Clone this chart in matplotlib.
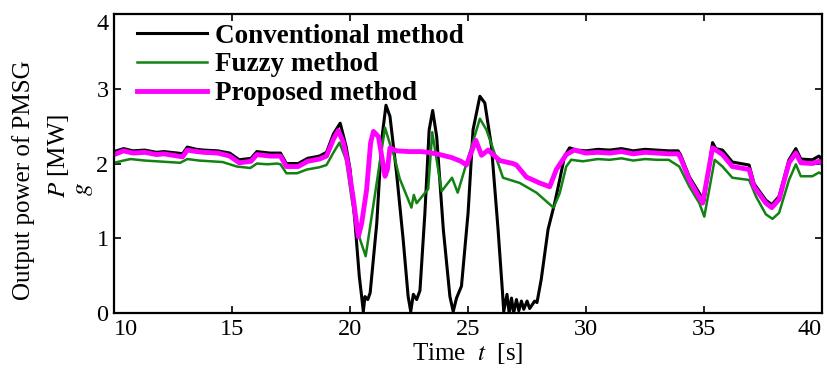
import matplotlib
matplotlib.use("Agg")
import matplotlib.pyplot as plt

# ================== configuracion ============== #
matplotlib.rcParams.update({
    "font.family": ["Liberation Serif", "DejaVu Serif"],
    "mathtext.fontset": "stix",
    "font.size": 18,
    "xtick.direction": "in",
    "ytick.direction": "in",
    "xtick.top": True,
    "ytick.right": True,
})

# ================== datos ============== #
t_conv = [10.0, 10.4, 10.8, 11.3, 11.8, 12.1, 12.7, 12.9, 13.1, 13.5, 13.8, 14.4, 14.9, 15.3, 15.8,
          16.05, 16.6, 17.05, 17.3, 17.8, 18.2, 18.7, 19.0, 19.3, 19.58, 19.83, 20.0, 20.21, 20.39,
          20.49, 20.56, 20.63, 20.75, 20.85, 21.13, 21.34, 21.52, 21.69, 21.97, 22.25, 22.46, 22.57,
          22.68, 22.82, 22.96, 23.17, 23.35, 23.5, 23.67, 23.95, 24.23, 24.37, 24.51, 24.72, 25.0,
          25.21, 25.5, 25.71, 25.99, 26.27, 26.46, 26.51, 26.65, 26.74, 26.84, 26.93, 27.05, 27.15,
          27.26, 27.36, 27.5, 27.61, 27.82, 27.92, 28.1, 28.39, 28.67, 28.88, 29.09, 29.3, 29.6,
          30.0, 30.5, 31.0, 31.5, 32.0, 32.5, 33.0, 33.5, 33.9, 34.0, 34.38, 34.94, 35.0, 35.36,
          35.5, 35.78, 36.2, 36.91, 37.12, 37.62, 37.87, 38.18, 38.6, 38.89, 39.1, 39.59, 39.87, 40.0]
p_conv = [2.16, 2.20, 2.17, 2.18, 2.15, 2.16, 2.14, 2.13, 2.22, 2.19, 2.18, 2.17, 2.14, 2.05, 2.07,
          2.16, 2.14, 2.14, 2.00, 2.00, 2.07, 2.10, 2.15, 2.40, 2.54, 2.23, 1.92, 1.20, 0.49,
          0.22, 0.02, 0.22, 0.18, 0.27, 1.20, 2.32, 2.78, 2.63, 1.87, 0.98, 0.22, 0.02,
          0.25, 0.18, 0.30, 1.34, 2.45, 2.71, 2.36, 1.12, 0.22, 0.02, 0.20, 0.36, 1.34,
          2.45, 2.90, 2.81, 2.23, 1.12, 0.27, 0.02, 0.25, 0.00, 0.20, 0.00, 0.18, 0.03,
          0.16, 0.05, 0.16, 0.06, 0.16, 0.14, 0.45, 1.12, 1.47, 1.78, 2.10, 2.21, 2.18,
          2.17, 2.19, 2.18, 2.20, 2.17, 2.19, 2.18, 2.17, 2.17, 2.12, 1.82, 1.53, 1.50, 2.28,
          2.20, 2.18, 2.02, 1.98, 1.73, 1.51, 1.45, 1.56, 2.05, 2.20, 2.06, 2.05, 2.10, 2.05]

t_fuzzy = [10.0, 10.4, 10.7, 11.3, 11.8, 12.3, 12.8, 13.1, 13.6, 14.1, 14.6, 15.2, 15.5, 15.77,
           16.05, 16.5, 16.9, 17.05, 17.3, 17.75, 18.17, 18.7, 19.0, 19.3, 19.55, 19.83, 20.07,
           20.28, 20.66, 21.48, 21.7, 21.85, 22.1, 22.6, 22.7, 22.82, 23.31, 23.48, 23.88, 24.32,
           24.56, 25.5, 25.78, 26.48, 27.19, 27.9, 28.62, 28.88, 29.16, 29.37, 29.86, 30.5, 31.0,
           31.5, 32.0, 32.5, 33.0, 33.5, 33.95, 34.38, 34.8, 35.01, 35.45, 35.78, 36.2, 36.91,
           37.2, 37.62, 37.9, 38.18, 38.6, 38.89, 39.1, 39.59, 39.87, 40.0]
p_fuzzy = [2.01, 2.04, 2.06, 2.04, 2.03, 2.02, 2.01, 2.06, 2.04, 2.03, 2.02, 1.96, 1.95, 1.94,
           2.00, 1.99, 2.00, 1.99, 1.87, 1.87, 1.92, 1.95, 1.98, 2.15, 2.28, 2.05, 1.52,
           1.12, 0.76, 2.48, 2.25, 2.12, 1.80, 1.41, 1.58, 1.47, 1.66, 2.42, 1.63, 1.81,
           1.61, 2.60, 2.45, 1.81, 1.74, 1.61, 1.41, 1.60, 1.96, 2.05, 2.03, 2.06, 2.05,
           2.07, 2.04, 2.06, 2.05, 2.05, 1.96, 1.69, 1.47, 1.29, 2.05, 1.96, 1.81, 1.78,
           1.56, 1.32, 1.26, 1.34, 1.78, 1.99, 1.83, 1.83, 1.88, 1.86]

t_prop = [10.0, 10.4, 10.8, 11.3, 11.8, 12.1, 12.7, 12.9, 13.1, 13.5, 13.8, 14.4, 14.9, 15.3, 15.8,
          16.05, 16.6, 17.05, 17.3, 17.8, 18.2, 18.7, 19.0, 19.3, 19.5, 19.72, 19.93, 20.14, 20.35,
          20.49, 20.7, 20.87, 20.99, 21.2, 21.34, 21.48, 21.58, 21.69, 21.97, 22.5, 23.0, 23.3,
          23.8, 24.3, 24.7, 24.93, 25.33, 25.57, 25.85, 26.34, 26.9, 27.05, 27.47, 28.03, 28.46,
          28.74, 29.16, 29.5, 30.0, 30.5, 31.0, 31.5, 32.0, 32.5, 33.0, 33.5, 33.9, 34.0, 34.38,
          34.94, 35.36, 35.78, 36.2, 36.91, 37.12, 37.62, 37.87, 38.18, 38.6, 38.89, 39.1, 39.59,
          39.87, 40.0]
p_prop = [2.12, 2.17, 2.14, 2.15, 2.12, 2.13, 2.10, 2.09, 2.18, 2.16, 2.15, 2.14, 2.10, 2.01, 2.03,
          2.12, 2.10, 2.10, 1.96, 1.96, 2.03, 2.06, 2.10, 2.33, 2.44, 2.28, 1.96, 1.52, 1.02,
          1.20, 1.65, 2.28, 2.43, 2.36, 2.10, 1.83, 1.92, 2.21, 2.17, 2.16, 2.16, 2.15,
          2.12, 2.08, 2.03, 1.98, 2.31, 2.11, 2.18, 2.04, 2.00, 1.98, 1.82, 1.74, 1.69,
          1.92, 2.12, 2.18, 2.14, 2.15, 2.14, 2.16, 2.13, 2.15, 2.14, 2.13, 2.13, 2.08, 1.78,
          1.47, 2.21, 2.12, 1.96, 1.92, 1.69, 1.47, 1.41, 1.52, 2.01, 2.14, 2.01, 2.00,
          2.03, 2.00]

labels = ["Conventional method", "Fuzzy method", "Proposed method"]
colors = ["#000000", "#128212", "#ff00ff"]

x_ticks = [10, 15, 20, 25, 30, 35, 40]
y_ticks = [0, 1, 2, 3, 4]

# ================== figura ============== #
fig = plt.figure(figsize=(8.27, 3.70), dpi=100)
ax = fig.add_axes([0.138, 0.154, 0.856, 0.808])

ax.plot(t_conv, p_conv, color=colors[0], lw=2.2, label=labels[0])
ax.plot(t_fuzzy, p_fuzzy, color=colors[1], lw=1.8, label=labels[1])
ax.plot(t_prop, p_prop, color=colors[2], lw=3.5, label=labels[2])

ax.set_xlim(10, 40)
ax.set_ylim(0, 4)
ax.set_xticks(x_ticks)
ax.set_yticks(y_ticks)
ax.tick_params(length=5, width=1.2, labelsize=17.5, pad=4)
for s in ax.spines.values():
    s.set_linewidth(1.6)

xl = ax.get_xticklabels()
xl[0].set_ha("left")
xl[-1].set_ha("right")
yl = ax.get_yticklabels()
yl[-1].set_va("top")

leg = ax.legend(loc="upper left", bbox_to_anchor=(0.033, 0.968), frameon=False,
                borderpad=0, borderaxespad=0, handlelength=2.55, handletextpad=0.3,
                labelspacing=0.14, prop={"weight": "bold", "size": 19.5})

fig.text(0.028, 0.514, "Output power of PMSG", rotation=90, ha="center", va="center", fontsize=18)
fig.text(0.071, 0.578, "$P$ [MW]", rotation=90, ha="center", va="center", fontsize=18)
fig.text(0.101, 0.49, "$g$", rotation=90, ha="center", va="center", fontsize=18)
fig.text(0.566, 0.045, "Time  $t$  [s]", ha="center", va="center", fontsize=18)

fig.savefig("out.png", dpi=100)
